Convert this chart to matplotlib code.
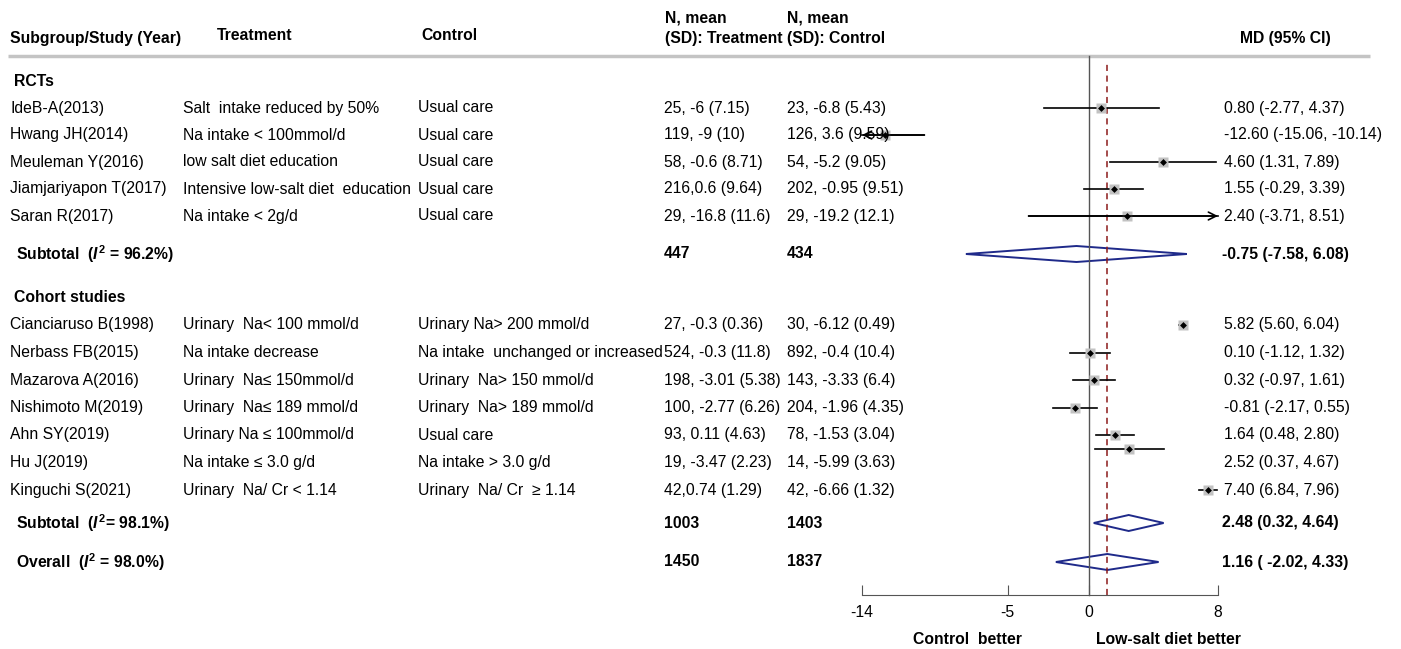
import matplotlib.pyplot as plt
from matplotlib.transforms import blended_transform_factory

plt.rcParams['font.family'] = ['Liberation Sans', 'DejaVu Sans']
plt.rcParams['axes.unicode_minus'] = False
plt.rcParams['mathtext.fontset'] = 'custom'
plt.rcParams['mathtext.rm'] = 'Liberation Sans:bold'
plt.rcParams['mathtext.it'] = 'Liberation Sans:italic:bold'
plt.rcParams['mathtext.bf'] = 'Liberation Sans:bold'

# RCTs
rct_study = ['IdeB-A(2013)', 'Hwang JH(2014)', 'Meuleman Y(2016)',
             'Jiamjariyapon T(2017)', 'Saran R(2017)']
rct_treat = ['Salt  intake reduced by 50%', 'Na intake < 100mmol/d',
             'low salt diet education', 'Intensive low-salt diet  education',
             'Na intake < 2g/d']
rct_ctrl = ['Usual care', 'Usual care', 'Usual care', 'Usual care', 'Usual care']
rct_n_treat = ['25, -6 (7.15)', '119, -9 (10)', '58, -0.6 (8.71)',
               '216,0.6 (9.64)', '29, -16.8 (11.6)']
rct_n_ctrl = ['23, -6.8 (5.43)', '126, 3.6 (9.59)', '54, -5.2 (9.05)',
              '202, -0.95 (9.51)', '29, -19.2 (12.1)']
rct_md = [0.80, -12.60, 4.60, 1.55, 2.40]
rct_lo = [-2.77, -15.06, 1.31, -0.29, -3.71]
rct_hi = [4.37, -10.14, 7.89, 3.39, 8.51]

# cohort studies
coh_study = ['Cianciaruso B(1998)', 'Nerbass FB(2015)', 'Mazarova A(2016)',
             'Nishimoto M(2019)', 'Ahn SY(2019)', 'Hu J(2019)', 'Kinguchi S(2021)']
coh_treat = ['Urinary  Na< 100 mmol/d', 'Na intake decrease',
             'Urinary  Na\u2264 150mmol/d', 'Urinary  Na\u2264 189 mmol/d',
             'Urinary Na \u2264 100mmol/d', 'Na intake \u2264 3.0 g/d',
             'Urinary  Na/ Cr < 1.14']
coh_ctrl = ['Urinary Na> 200 mmol/d', 'Na intake  unchanged or increased',
            'Urinary  Na> 150 mmol/d', 'Urinary  Na> 189 mmol/d', 'Usual care',
            'Na intake > 3.0 g/d', 'Urinary  Na/ Cr  \u2265 1.14']
coh_n_treat = ['27, -0.3 (0.36)', '524, -0.3 (11.8)', '198, -3.01 (5.38)',
               '100, -2.77 (6.26)', '93, 0.11 (4.63)', '19, -3.47 (2.23)',
               '42,0.74 (1.29)']
coh_n_ctrl = ['30, -6.12 (0.49)', '892, -0.4 (10.4)', '143, -3.33 (6.4)',
              '204, -1.96 (4.35)', '78, -1.53 (3.04)', '14, -5.99 (3.63)',
              '42, -6.66 (1.32)']
coh_md = [5.82, 0.10, 0.32, -0.81, 1.64, 2.52, 7.40]
coh_lo = [5.60, -1.12, -0.97, -2.17, 0.48, 0.37, 6.84]
coh_hi = [6.04, 1.32, 1.61, 0.55, 2.80, 4.67, 7.96]

# pooled rows: RCT subtotal, cohort subtotal, overall
pool_label = ['Subtotal  ($I^2$ = 96.2%)', 'Subtotal  ($I^2$= 98.1%)',
              'Overall  ($I^2$ = 98.0%)']
pool_n_treat = ['447', '1003', '1450']
pool_n_ctrl = ['434', '1403', '1837']
pool_md = [-0.75, 2.48, 1.16]
pool_lo = [-7.58, 0.32, -2.02]
pool_hi = [6.08, 4.64, 4.33]

xticks = [-14, -5, 0, 8]
xmin, xmax = -14, 8

# layout (pixels)
W, H = 1401, 649
ax_left, ax_right, ax_top, ax_bottom = 862, 1218, 56, 595
rct_y = [108 + 27 * i for i in range(len(rct_study))]
coh_y = [325 + 27.5 * i for i in range(len(coh_study))]
pool_y = [254, 523, 562]
group_y = [82, 298]
col_study, col_treat, col_ctrl, col_nt, col_nc, col_md = 10, 183, 418, 664, 787, 1224
marker_nudge = {'Hu J(2019)': -14}

FS = 11.3
navy = '#1f2a8a'

fig = plt.figure(figsize=(W / 100, H / 100), dpi=100)
ax = fig.add_axes([ax_left / W, 1 - ax_bottom / H,
                   (ax_right - ax_left) / W, (ax_bottom - ax_top) / H])
ax.set_xlim(xmin, xmax)
ax.set_ylim(ax_bottom, ax_top)
ax.patch.set_alpha(0)
for s in ['top', 'left', 'right']:
    ax.spines[s].set_visible(False)
ax.spines['bottom'].set_color('#555555')
ax.set_yticks([])
ax.set_xticks(xticks)
ax.tick_params(axis='x', direction='in', length=7, color='#555555',
               labelsize=FS, pad=7)

tr = blended_transform_factory(fig.transFigure, ax.transData)


def put(px, y, s, **kw):
    ax.text(px / W, y, s, transform=tr, fontsize=FS, va='center', ha='left', **kw)


# column headers
put(col_study, 38, 'Subgroup/Study (Year)', fontweight='bold')
put(217, 36, 'Treatment', fontweight='bold')
put(421, 36, 'Control', fontweight='bold')
put(col_nt + 1, 18, 'N, mean', fontweight='bold')
put(col_nt + 1, 38, '(SD): Treatment', fontweight='bold')
put(col_nc, 18, 'N, mean', fontweight='bold')
put(col_nc, 38, '(SD): Control', fontweight='bold')
put(1240, 38, 'MD (95% CI)', fontweight='bold')
ax.plot([8 / W, 1370 / W], [ax_top, ax_top], transform=tr, color='#c4c4c4',
        lw=2.5, clip_on=False, solid_capstyle='butt')

# reference lines
ax.plot([0, 0], [ax_bottom, ax_top], color='#555555', lw=1, clip_on=False)
ax.plot([pool_md[2], pool_md[2]], [ax_bottom, ax_top + 6], color='#8b1a1a',
        lw=1.1, ls=(0, (4, 3)), clip_on=False)

put(14, group_y[0], 'RCTs', fontweight='bold')
put(14, group_y[1], 'Cohort studies', fontweight='bold')


def study_rows(ys, names, treat, ctrl, nt, nc, md, lo, hi):
    for i, y in enumerate(ys):
        put(col_study, y, names[i])
        put(col_treat, y, treat[i])
        put(col_ctrl, y, ctrl[i])
        put(col_nt, y, nt[i])
        put(col_nc, y, nc[i])
        put(col_md, y, f'{md[i]:.2f} ({lo[i]:.2f}, {hi[i]:.2f})')

        ym = y + marker_nudge.get(names[i], 0)
        a, b = max(lo[i], xmin), min(hi[i], xmax)
        ax.plot([a, b], [ym, ym], color='black', lw=1.2, clip_on=False)
        if lo[i] < xmin:
            ax.annotate('', xy=(xmin, ym), xytext=(b, ym),
                        arrowprops=dict(arrowstyle='->', lw=1.2, color='black',
                                        shrinkA=0, shrinkB=0, mutation_scale=14))
        if hi[i] > xmax:
            ax.annotate('', xy=(xmax, ym), xytext=(a, ym),
                        arrowprops=dict(arrowstyle='->', lw=1.2, color='black',
                                        shrinkA=0, shrinkB=0, mutation_scale=14))
        ax.plot(md[i], ym, 's', ms=7, color='#c2c2c2', mec='none', clip_on=False)
        ax.plot(md[i], ym, 'D', ms=3.5, color='black', mec='none', clip_on=False)


study_rows(rct_y, rct_study, rct_treat, rct_ctrl, rct_n_treat, rct_n_ctrl,
           rct_md, rct_lo, rct_hi)
study_rows(coh_y, coh_study, coh_treat, coh_ctrl, coh_n_treat, coh_n_ctrl,
           coh_md, coh_lo, coh_hi)

# pooled estimates as diamonds
for i, y in enumerate(pool_y):
    put(16, y, pool_label[i], fontweight='bold')
    put(col_nt, y, pool_n_treat[i], fontweight='bold')
    put(col_nc, y, pool_n_ctrl[i], fontweight='bold')
    gap = ' ' if i == 2 else ''
    put(col_md - 2, y, f'{pool_md[i]:.2f} ({gap}{pool_lo[i]:.2f}, {pool_hi[i]:.2f})',
        fontweight='bold')
    ax.fill([pool_lo[i], pool_md[i], pool_hi[i], pool_md[i]],
            [y, y - 8, y, y + 8], fill=False, edgecolor=navy, lw=1.4,
            clip_on=False)

fig.text(967 / W, 1 - 640 / H, 'Control  better', fontsize=FS,
         fontweight='bold', ha='center', va='center')
fig.text(1168 / W, 1 - 640 / H, 'Low-salt diet better', fontsize=FS,
         fontweight='bold', ha='center', va='center')

fig.savefig('out.png', dpi=100)
